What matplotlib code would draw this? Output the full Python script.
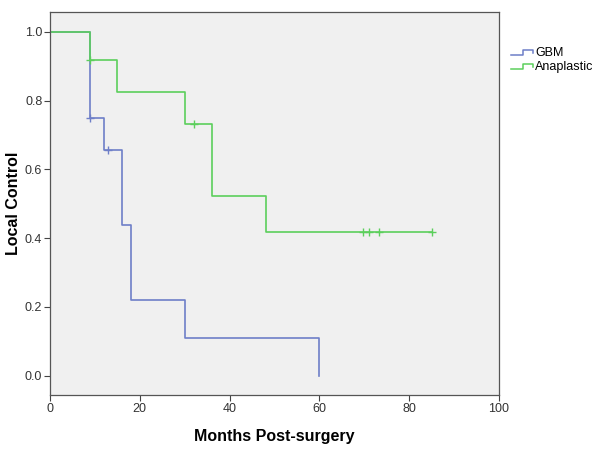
import matplotlib
matplotlib.use("Agg")
import matplotlib.pyplot as plt
from matplotlib.lines import Line2D
from matplotlib.legend_handler import HandlerBase

plt.rcParams['font.family'] = ['Liberation Sans', 'DejaVu Sans']

# Kaplan-Meier step data
gbm_t = [0, 9, 12, 16, 18, 30, 60]
gbm_s = [1.0, 0.75, 0.656, 0.4375, 0.219, 0.109, 0.0]
gbm_cens_t = [9, 13]
gbm_cens_s = [0.75, 0.656]

ana_t = [0, 9, 15, 30, 36, 48, 85]
ana_s = [1.0, 0.917, 0.825, 0.733, 0.524, 0.419, 0.419]
ana_cens_t = [9, 32, 69.6, 71, 73.3, 85]
ana_cens_s = [0.917, 0.733, 0.419, 0.419, 0.419, 0.419]

blue = "#6e7fc8"
green = "#5ccf5c"


class StepHandler(HandlerBase):
    def create_artists(self, legend, orig_handle, xdescent, ydescent,
                       width, height, fontsize, trans):
        x0, x1 = -xdescent, -xdescent + width
        xm = x0 + width * 0.5
        y0 = -ydescent + height * 0.1
        y1 = -ydescent + height * 0.75
        ln = Line2D([x0, xm, xm, x1 - width * 0.05, x1 - width * 0.05],
                    [y0, y0, y1, y1, y0 + height * 0.25],
                    color=orig_handle.get_color(), lw=1.1, transform=trans)
        return [ln]


fig = plt.figure(figsize=(6, 4.58), dpi=100)
ax = fig.add_axes([50 / 600, 63 / 458, 449 / 600, 383 / 458])
ax.set_facecolor("#f0f0f0")

l1, = ax.step(gbm_t, gbm_s, where="post", color=blue, lw=1.2, label="GBM")
ax.plot(gbm_cens_t, gbm_cens_s, "+", color=blue, ms=6, mew=1.0)
l2, = ax.step(ana_t, ana_s, where="post", color=green, lw=1.2, label="Anaplastic")
ax.plot(ana_cens_t, ana_cens_s, "+", color=green, ms=6, mew=1.0)

ax.set_xlim(0, 100)
ax.set_ylim(-0.056, 1.058)
ax.set_xticks([0, 20, 40, 60, 80, 100])
ax.set_yticks([0.0, 0.2, 0.4, 0.6, 0.8, 1.0])
ax.set_yticklabels(["0.0", "0.2", "0.4", "0.6", "0.8", "1.0"])
ax.tick_params(direction="out", length=4.5, width=0.8, colors="#444444",
               labelsize=9, labelcolor="#333333", pad=1)
for sp in ax.spines.values():
    sp.set_color("#555555")
    sp.set_linewidth(0.9)

ax.set_xlabel("Months Post-surgery", fontsize=11.5, fontweight="bold", labelpad=10)
ax.set_ylabel("Local Control", fontsize=11.5, fontweight="bold")
ax.yaxis.set_label_coords(-29 / 449, 0.5)

fig.legend(handles=[l1, l2], loc="upper left", bbox_to_anchor=(500 / 600, 1 - 36 / 458),
           frameon=False, fontsize=9, handlelength=1.8, handletextpad=0.1,
           labelspacing=0.15, handler_map={Line2D: StepHandler()})

fig.savefig("out.png", dpi=100)
